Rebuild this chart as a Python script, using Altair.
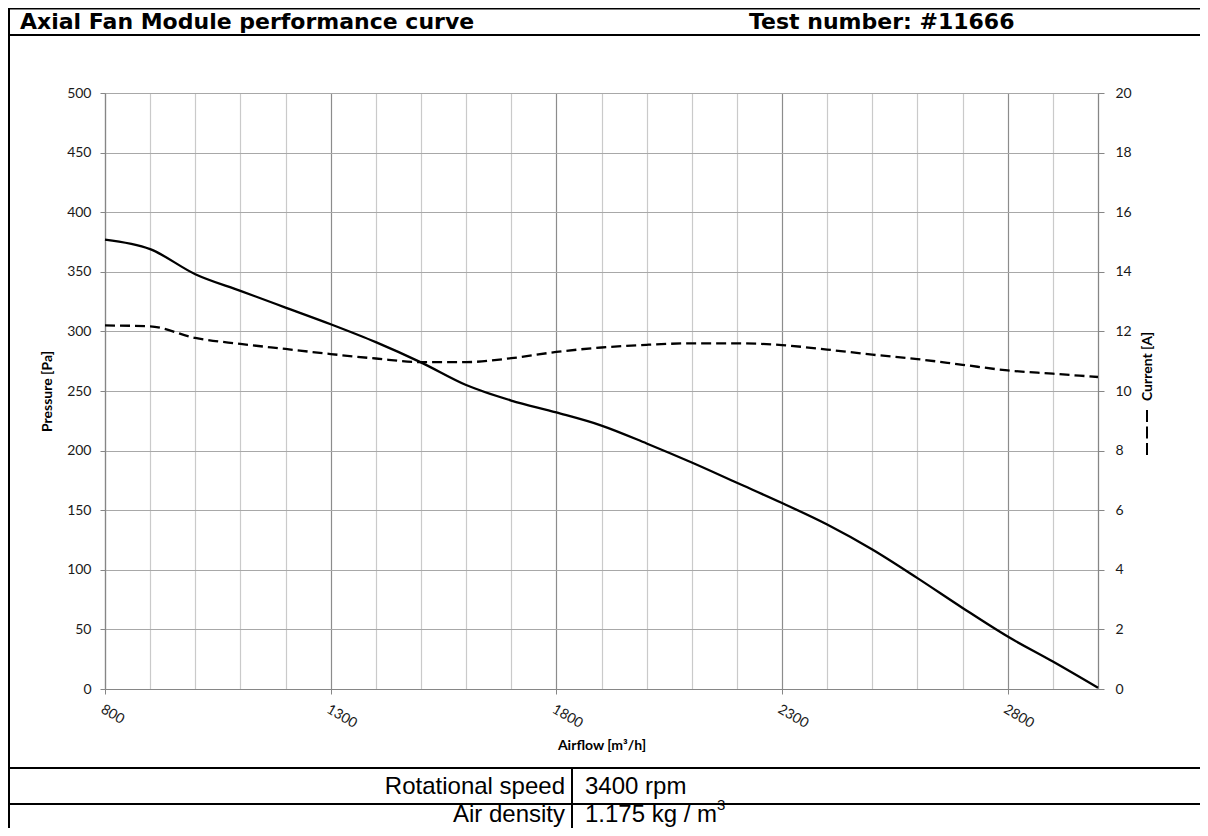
import altair as alt
import pandas as pd

# ---------------- data ----------------
airflow = [800, 900, 1000, 1100, 1200, 1300, 1400, 1500, 1600, 1700, 1800, 1900,
           2000, 2100, 2200, 2300, 2400, 2500, 2600, 2700, 2800, 2900, 3000]
pressure = [377, 369, 348, 334, 320, 306, 291, 274, 255, 242, 232, 221,
            206, 190, 173, 156, 138, 117, 93, 68, 44, 23, 1]
current = [12.2, 12.17, 11.78, 11.58, 11.41, 11.24, 11.09, 10.97, 10.97, 11.1, 11.31, 11.46,
           11.55, 11.6, 11.6, 11.54, 11.39, 11.22, 11.07, 10.88, 10.69, 10.58, 10.47]
x_ticks = list(range(800, 3001, 100))
p_ticks = list(range(0, 501, 50))
c_ticks = list(range(0, 21, 2))

title_left = "Axial Fan Module performance curve"
title_right = "Test number: #11666"
row_labels = ["Rotational speed", "Air density"]
row_values = ["3400 rpm", "1.175 kg / m"]

df = pd.DataFrame({"airflow": airflow, "pressure": pressure, "current": current})

# ---------------- layout ----------------
W, H = 993, 596
OX, OY = 105, 93          # page position of plot origin
PAD = {"left": OX - 8, "top": OY - 8, "right": 1192 - (OX - 8) - W, "bottom": 820 - (OY - 8) - H}


def px(x):
    return x - OX


def py(y):
    return y - OY


AXIS_FONT = "Lato"
MAJOR = "datum.value % 500 == 300"

x_enc = alt.X(
    "airflow:Q",
    scale=alt.Scale(domain=[800, 3000], nice=False, zero=False),
    axis=alt.Axis(
        values=x_ticks, format="d",
        labelExpr=f"{MAJOR} ? datum.label : ''",
        labelAngle=30, labelAlign="left", labelBaseline="top", labelPadding=8,
        labelFlush=False, labelOverlap=False, labelBound=False,
        labelFont=AXIS_FONT, labelFontSize=14, labelColor="#1a1a1a",
        tickSize=5, tickColor="#868686",
        tickOpacity={"condition": {"test": MAJOR, "value": 1}, "value": 0},
        grid=True,
        gridColor={"condition": {"test": MAJOR, "value": "#8c8c8c"}, "value": "#cacaca"},
        gridWidth=1.2,
        domainColor="#868686", domainWidth=1.2,
        title="Airflow [m³/h]", titleFont=AXIS_FONT, titleFontSize=14, titleFontWeight="bold",
        titleColor="black", titleY=56, titleBaseline="middle",
    ),
)

pressure_line = alt.Chart(df).mark_line(
    color="black", strokeWidth=2.3, interpolate="monotone"
).encode(
    x=x_enc,
    y=alt.Y(
        "pressure:Q",
        scale=alt.Scale(domain=[0, 500], nice=False),
        axis=alt.Axis(
            values=p_ticks, orient="left", grid=True, gridColor="#a8a8a8", gridWidth=1.2,
            tickSize=5, tickColor="#868686", domainColor="#868686", domainWidth=1.2,
            labelPadding=9, labelFont=AXIS_FONT, labelFontSize=14, labelColor="#1a1a1a",
            title="Pressure [Pa]", titleFont=AXIS_FONT, titleFontSize=14, titleFontWeight="bold",
            titleColor="black", titleX=-58, titleAngle=270, titleAlign="center",
            titleBaseline="middle",
        ),
    ),
)

current_line = alt.Chart(df).mark_line(
    color="black", strokeWidth=2.3, strokeDash=[10, 5], interpolate="monotone"
).encode(
    x=x_enc,
    y=alt.Y(
        "current:Q",
        scale=alt.Scale(domain=[0, 20], nice=False),
        axis=alt.Axis(
            values=c_ticks, orient="right", grid=False,
            tickSize=6, tickColor="#868686", domainColor="#868686", domainWidth=1.2,
            labelPadding=11, labelFont=AXIS_FONT, labelFontSize=14, labelColor="#1a1a1a",
            title="Current [A]", titleFont=AXIS_FONT, titleFontSize=14, titleFontWeight="bold",
            titleColor="black", titleX=49, titleY=273, titleAngle=270, titleAlign="center",
            titleBaseline="middle",
        ),
    ),
)

ONE = alt.Data(values=[{}])


def hline(y, x1, x2, w=2):
    return alt.Chart(ONE).mark_rule(color="black", strokeWidth=w).encode(
        x=alt.value(px(x1)), x2=alt.value(px(x2)), y=alt.value(py(y)))


def vline(x, y1, y2, w=2, dash=None):
    kw = {"color": "black", "strokeWidth": w}
    if dash:
        kw["strokeDash"] = dash
    return alt.Chart(ONE).mark_rule(**kw).encode(
        x=alt.value(px(x)), y=alt.value(py(y1)), y2=alt.value(py(y2)))


def label(text, x, y, size, weight="normal", align="left", font="Liberation Sans"):
    return alt.Chart(ONE).mark_text(
        text=text, align=align, baseline="alphabetic", fontSize=size,
        fontWeight=weight, font=font, color="black"
    ).encode(x=alt.value(px(x)), y=alt.value(py(y)))


decor = [
    hline(8.75, 8, 1200, w=1.5),
    hline(35, 8, 1200),
    hline(768, 8, 1200),
    hline(804, 8, 1200),
    vline(9, 8, 828),
    vline(572, 768, 828),
    vline(1147, 410, 455, w=2, dash=[12, 4.5]),
    label(title_left, 20, 29, 22, "bold", font="DejaVu Sans"),
    label(title_right, 749, 29, 22, "bold", font="DejaVu Sans"),
    label(row_labels[0], 565, 794, 24, align="right"),
    label(row_values[0], 585, 794, 24),
    label(row_labels[1], 565, 822, 24, align="right"),
    label(row_values[1], 585, 822, 24),
    label("3", 717, 810, 15),
]

chart = alt.layer(pressure_line, current_line, *decor).resolve_scale(
    y="independent"
).properties(
    width=W, height=H,
    autosize=alt.AutoSizeParams(type="none"),
    padding=PAD,
).configure_view(strokeWidth=0)

chart.save("out.html", embed_options={"renderer": "svg", "actions": False})
